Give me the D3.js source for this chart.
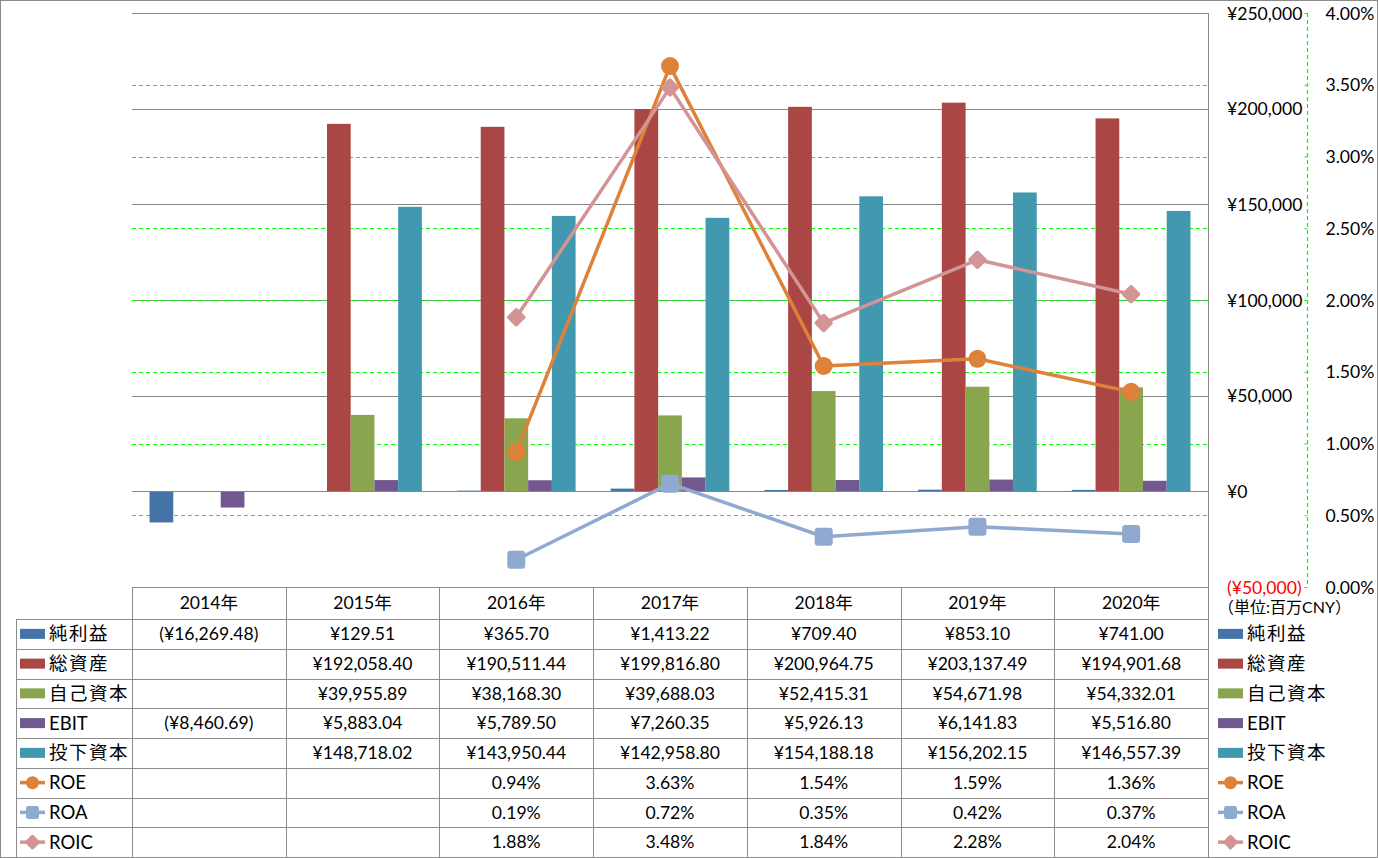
<!DOCTYPE html>
<html><head><meta charset="utf-8">
<script src="https://cdn.jsdelivr.net/npm/d3@7"></script>
<style>
html,body{margin:0;padding:0;background:#fff;}
svg{display:block;font-family:Lato,"Noto Sans CJK JP",sans-serif;}
</style></head>
<body>
<svg id="c" width="1378" height="858"></svg>
<script>
// ---- data ----
const categories = ["2014年","2015年","2016年","2017年","2018年","2019年","2020年"];
const barSeries = ["純利益","総資産","自己資本","EBIT","投下資本"];
const netIncome   = [-16269.48, 129.51, 365.70, 1413.22, 709.40, 853.10, 741.00];
const totalAssets = [null, 192058.40, 190511.44, 199816.80, 200964.75, 203137.49, 194901.68];
const equity      = [null, 39955.89, 38168.30, 39688.03, 52415.31, 54671.98, 54332.01];
const ebit        = [-8460.69, 5883.04, 5789.50, 7260.35, 5926.13, 6141.83, 5516.80];
const investedCap = [null, 148718.02, 143950.44, 142958.80, 154188.18, 156202.15, 146557.39];
const lineSeries = ["ROE","ROA","ROIC"];
const roe  = [null, null, 0.94, 3.63, 1.54, 1.59, 1.36];
const roa  = [null, null, 0.19, 0.72, 0.35, 0.42, 0.37];
const roic = [null, null, 1.88, 3.48, 1.84, 2.28, 2.04];
const primaryTicks = [-50000, 0, 50000, 100000, 150000, 200000, 250000];
const secondaryTicks = [0, 0.5, 1, 1.5, 2, 2.5, 3, 3.5, 4];
const unitLabel = "（単位:百万CNY）";

const barValues = [netIncome, totalAssets, equity, ebit, investedCap];
const lineValues = [roe, roa, roic];
const barColors = ["#4572A7","#AA4643","#89A54E","#71588F","#4198AF"];
const lineColors = ["#DE823A","#8FA9D0","#D29494"];
const markerTypes = ["circle","square","diamond"];

// ---- layout ----
const L = 132, R = 1208, T = 13, B = 587;
const tableLeft = 16, headerBottom = 619, tableBottom = 857;
const rowH = (tableBottom - headerBottom) / 8;
const gridGray = "#868686";
const green = "#00ff00";
const FS = 17.6;

const svg = d3.select("#c");
const x = d3.scaleBand().domain(categories).range([L, R]).paddingInner(0).paddingOuter(0);
const xs = d3.scaleBand().domain(barSeries).range([0, x.bandwidth()]).paddingInner(0).paddingOuter(0.74);
const yP = d3.scaleLinear().domain([-50000, 250000]).range([B, T]);
const yS = d3.scaleLinear().domain([0, 4]).range([B, T]);

function marker(g, type, cx, cy, s, color){
  if(type==="circle"){
    g.append("circle").attr("cx",cx).attr("cy",cy).attr("r",s/2).attr("fill",color);
  } else if(type==="square"){
    g.append("rect").attr("x",cx-s/2).attr("y",cy-s/2).attr("width",s).attr("height",s)
      .attr("rx",s*0.18).attr("fill",color);
  } else {
    const a = s/Math.SQRT2;
    g.append("rect").attr("x",-a/2).attr("y",-a/2).attr("width",a).attr("height",a).attr("rx",a*0.15)
      .attr("transform",`translate(${cx},${cy}) rotate(45)`).attr("fill",color);
  }
}

// outer border
svg.append("rect").attr("x",0.5).attr("y",0.5).attr("width",1377).attr("height",857)
  .attr("fill","none").attr("stroke","#8a8a8a");

// primary gridlines
svg.append("g").selectAll("line").data(primaryTicks).join("line")
  .attr("x1",L).attr("x2",R).attr("y1",d=>Math.round(yP(d))+0.5).attr("y2",d=>Math.round(yP(d))+0.5)
  .attr("stroke",gridGray).attr("stroke-width",1);
// secondary gridlines (green dashed)
svg.append("g").selectAll("line").data(secondaryTicks.filter(d=>d>0 && d<4)).join("line")
  .attr("x1",L).attr("x2",R).attr("y1",d=>Math.round(yS(d))+0.5).attr("y2",d=>Math.round(yS(d))+0.5)
  .attr("stroke",green).attr("stroke-width",1.2).attr("stroke-dasharray","4,3");

// bars
barSeries.forEach((s,i)=>{
  svg.append("g").selectAll("rect").data(categories.map((c,j)=>({c,v:barValues[i][j]})).filter(d=>d.v!=null))
    .join("rect")
    .attr("x",d=>x(d.c)+xs(s))
    .attr("width",xs.bandwidth())
    .attr("y",d=>Math.min(yP(d.v),yP(0)))
    .attr("height",d=>Math.abs(yP(d.v)-yP(0)))
    .attr("fill",barColors[i]);
});

// zero line on top of bars
svg.append("line").attr("x1",L).attr("x2",R).attr("y1",Math.round(yP(0))+0.5).attr("y2",Math.round(yP(0))+0.5)
  .attr("stroke",gridGray);

// lines
const markerSizes=[18,18,20];
lineSeries.forEach((s,i)=>{
  const pts = categories.map((c,j)=>({c,v:lineValues[i][j]})).filter(d=>d.v!=null);
  const line = d3.line().x(d=>x(d.c)+x.bandwidth()/2).y(d=>yS(d.v));
  const g = svg.append("g");
  g.append("path").attr("d",line(pts)).attr("fill","none").attr("stroke",lineColors[i])
    .attr("stroke-width",3.5).attr("stroke-linejoin","round");
  pts.forEach(d=>marker(g, markerTypes[i], x(d.c)+x.bandwidth()/2, yS(d.v), markerSizes[i], lineColors[i]));
});

// right edge of plot (axis line)
svg.append("line").attr("x1",R+0.5).attr("x2",R+0.5).attr("y1",T).attr("y2",tableBottom).attr("stroke",gridGray);

// primary axis labels
const fmtNum = d3.format(",");
const axP = svg.append("g").attr("transform",`translate(1227,0)`)
  .call(d3.axisRight(yP).tickValues(primaryTicks).tickSize(0).tickPadding(0)
    .tickFormat(d=> d<0 ? "(¥"+fmtNum(-d)+")" : "¥"+fmtNum(d)));
axP.select(".domain").remove();
axP.selectAll("text").attr("font-size",FS).attr("font-family","Lato,'Noto Sans CJK JP',sans-serif")
  .attr("fill",d=>d<0?"#ff0000":"#000").attr("text-anchor","start").attr("dy","0.35em");

// secondary axis
const axS = svg.append("g").attr("transform",`translate(1307.5,0)`)
  .call(d3.axisLeft(yS).tickValues(secondaryTicks).tickSize(3).tickFormat(d=>d3.format(".2f")(d)+"%"));
axS.select(".domain").remove();
axS.append("line").attr("x1",0).attr("x2",0).attr("y1",T).attr("y2",B)
  .attr("stroke",green).attr("stroke-width",1.2).attr("stroke-dasharray","4,3");
axS.selectAll(".tick line").attr("stroke",green);
axS.selectAll("text").attr("font-size",FS).attr("font-family","Lato,'Noto Sans CJK JP',sans-serif")
  .attr("fill","#000").attr("text-anchor","start").attr("x",18).attr("dy","0.35em");

// unit label
svg.append("text").attr("x",1218).attr("y",607).attr("dy","0.35em").attr("font-size",16).text(unitLabel);

// ---- data table ----
const tg = svg.append("g");
const tStroke = "#8c8c8c";
tg.append("line").attr("x1",L).attr("x2",R).attr("y1",B+0.5).attr("y2",B+0.5).attr("stroke",tStroke);
for(let r=0;r<=8;r++){
  const yy = Math.round(headerBottom + r*rowH)+0.5;
  tg.append("line").attr("x1",tableLeft).attr("x2",R).attr("y1",yy).attr("y2",yy).attr("stroke",tStroke);
}
tg.append("line").attr("x1",tableLeft+0.5).attr("x2",tableLeft+0.5).attr("y1",headerBottom).attr("y2",tableBottom).attr("stroke",tStroke);
categories.forEach(c=>{
  const xx = Math.round(x(c))+0.5;
  tg.append("line").attr("x1",xx).attr("x2",xx).attr("y1",B).attr("y2",tableBottom).attr("stroke",tStroke);
});
tg.selectAll("text.h").data(categories).join("text").attr("class","h")
  .attr("x",c=>x(c)+x.bandwidth()/2).attr("y",(B+headerBottom)/2).attr("dy","0.35em")
  .attr("text-anchor","middle").attr("font-size",FS).text(c=>c);

const fmtYen = v => v==null ? "" : (v<0 ? "(¥"+d3.format(",.2f")(-v)+")" : "¥"+d3.format(",.2f")(v));
const fmtPct = v => v==null ? "" : d3.format(".2f")(v)+"%";
const allRows = barSeries.map((s,i)=>({name:s,vals:barValues[i],fmt:fmtYen,color:barColors[i],type:"bar"}))
  .concat(lineSeries.map((s,i)=>({name:s,vals:lineValues[i],fmt:fmtPct,color:lineColors[i],type:"line",marker:markerTypes[i]})));

function legendKey(g, row, kx, cy){
  if(row.type==="bar"){
    g.append("rect").attr("x",kx).attr("y",cy-5).attr("width",25).attr("height",10).attr("fill",row.color);
  } else {
    g.append("line").attr("x1",kx).attr("x2",kx+25).attr("y1",cy).attr("y2",cy).attr("stroke",row.color).attr("stroke-width",3.5);
    marker(g, row.marker, kx+12.5, cy, row.marker==="diamond"?16:13, row.color);
  }
}

allRows.forEach((row,r)=>{
  const cy = headerBottom + rowH*(r+0.5);
  const isCJK = /[^\x00-\x7f]/.test(row.name);
  legendKey(tg,row,20,cy);
  tg.append("text").attr("x",49).attr("y",cy).attr("dy","0.35em").attr("font-size",isCJK?18.5:18.5)
    .attr("letter-spacing",isCJK?1.5:0).text(row.name);
  legendKey(tg,row,1218,cy);
  tg.append("text").attr("x",1247).attr("y",cy).attr("dy","0.35em").attr("font-size",18.5)
    .attr("letter-spacing",isCJK?1.5:0).text(row.name);
  categories.forEach((c,j)=>{
    const t = row.fmt(row.vals[j]);
    if(!t) return;
    tg.append("text").attr("x",x(c)+x.bandwidth()/2).attr("y",cy).attr("dy","0.35em")
      .attr("text-anchor","middle").attr("font-size",FS).text(t);
  });
});
</script>
</body></html>
